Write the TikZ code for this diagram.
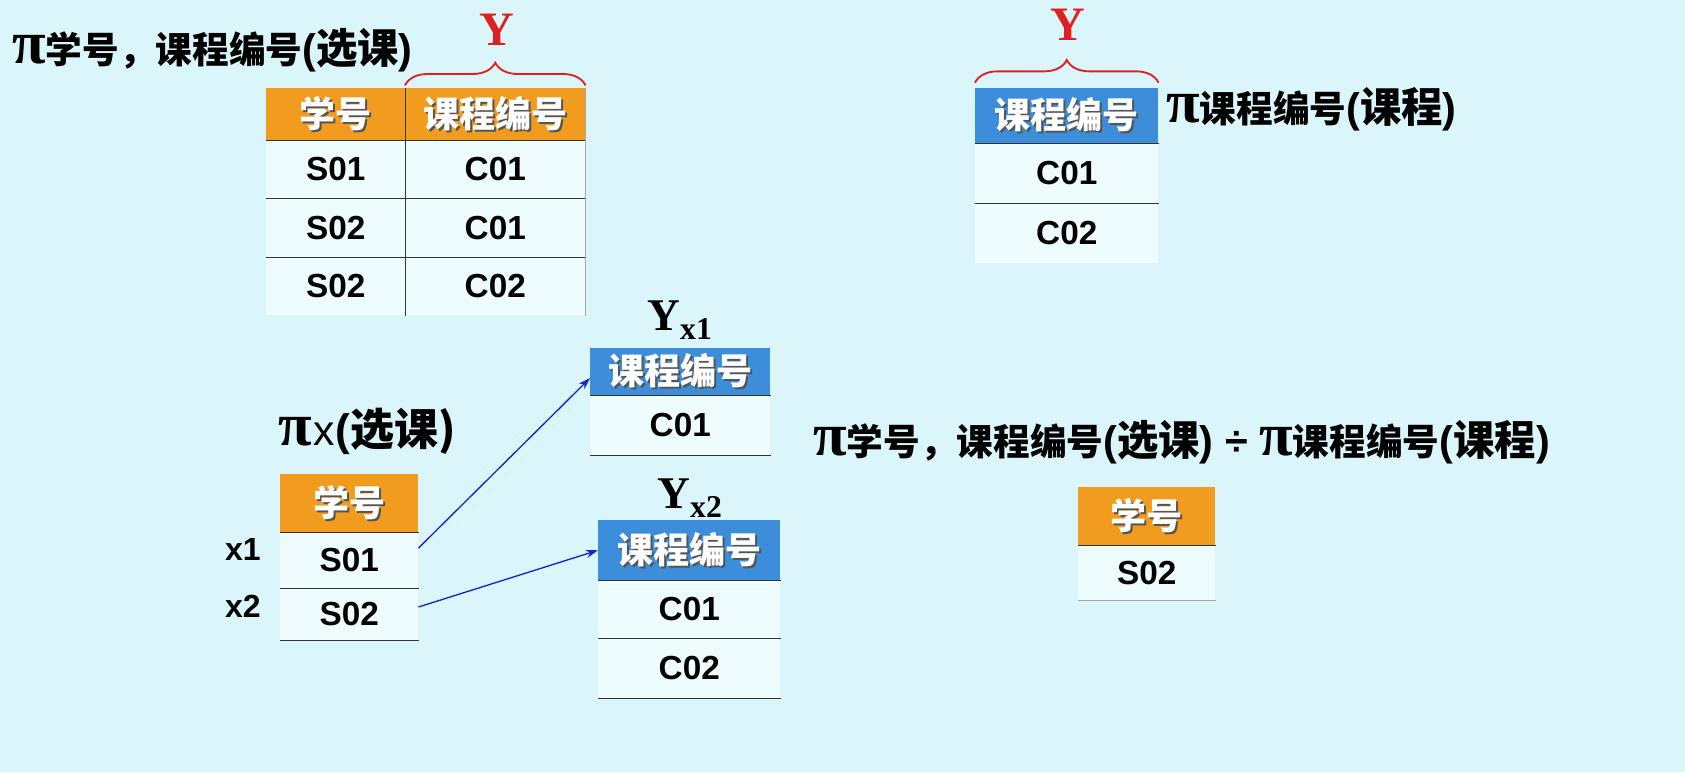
\documentclass[tikz,border=0pt]{standalone}
\usepackage{fontspec}
\setmainfont{Liberation Sans}
\newfontfamily\cjk{Noto Sans CJK SC}
\newfontfamily\ser{Liberation Serif}
\usetikzlibrary{decorations.pathreplacing,arrows.meta}
\definecolor{bgc}{HTML}{DBF6FB}
\definecolor{cellc}{HTML}{EEFCFD}
\definecolor{orangec}{HTML}{F29C1F}
\definecolor{bluec}{HTML}{3C8EDB}
\definecolor{rulec}{HTML}{333333}
\definecolor{redc}{HTML}{E02020}
\definecolor{arrc}{HTML}{1A22C8}
\definecolor{shadowc}{HTML}{555555}
\newcommand\shd[1]{\rlap{\kern1.6pt\raisebox{-1.6pt}{\textcolor{shadowc}{#1}}}\textcolor{white}{#1}}
\newcommand\bigpi{{\fontsize{46}{46}\selectfont\ser\bfseries π}}
\newcommand\subcj[1]{{\fontsize{27.5}{27.5}\selectfont\cjk\bfseries #1}}
\newcommand\bigcj[1]{{\fontsize{31}{31}\selectfont\cjk\bfseries #1}}
\newcommand\bigpar[1]{{\fontsize{31}{31}\selectfont\bfseries #1}}
\newcommand\cellnode[7]{\node[#2, anchor=north west, minimum width={(#5-#3)*0.75pt}, minimum height={(#6-#4)*0.75pt}] (#1) at (#3,#4) {#7};}
\tikzset{
  cell/.style={fill=cellc, inner sep=0pt, font=\fontsize{25}{25}\selectfont\bfseries},
  ohead/.style={cell, fill=orangec, font=\fontsize{27}{27}\selectfont\cjk\bfseries},
  bhead/.style={cell, fill=bluec, font=\fontsize{27}{27}\selectfont\cjk\bfseries},
  rule/.style={draw=rulec, line width=1.3pt},
  thin rule/.style={draw=black!35, line width=0.8pt},
  bracey/.style={draw=redc, line width=1.4pt, decorate, decoration={brace, amplitude=17pt}},
  ylab/.style={text=redc, font=\fontsize{36}{36}\selectfont\ser\bfseries, inner sep=0pt},
  ysub/.style={font=\fontsize{34}{34}\selectfont\ser\bfseries, inner sep=0pt},
  lab/.style={inner sep=0pt},
  xlab/.style={inner sep=0pt, font=\fontsize{24}{24}\selectfont\bfseries},
  arr/.style={draw=arrc, line width=1pt, -{Stealth[length=9pt,width=6pt]}}
}
\begin{document}
\begin{tikzpicture}[x=0.75pt,y=-0.75pt]
\fill[bgc] (0,0) rectangle (1685,772);
\useasboundingbox (0,0) rectangle (1685,772);
% ---- table 1
\cellnode{t1a}{ohead}{266}{88}{405}{140}{\shd{学号}}
\cellnode{t1b}{ohead}{405}{88}{585}{140}{\shd{课程编号}}
\cellnode{t1r1a}{cell}{266}{140}{405}{198}{S01}
\cellnode{t1r1b}{cell}{405}{140}{585}{198}{C01}
\cellnode{t1r2a}{cell}{266}{198}{405}{257}{S02}
\cellnode{t1r2b}{cell}{405}{198}{585}{257}{C01}
\cellnode{t1r3a}{cell}{266}{257}{405}{315}{S02}
\cellnode{t1r3b}{cell}{405}{257}{585}{315}{C02}
\draw[rule] (t1a.south west) -- (t1b.south east);
\draw[rule] (t1r1a.south west) -- (t1r1b.south east);
\draw[rule] (t1r2a.south west) -- (t1r2b.south east);
\draw[rule] (t1a.north east) -- (t1r3a.south east);
\draw[thin rule] (t1b.north east) -- (t1r3b.south east);
\coordinate (b1l) at (t1b.north west);
\coordinate (b1r) at (t1b.north east);
\draw[bracey] ([yshift=2pt]b1l) -- ([yshift=2pt]b1r);
\node[ylab, anchor=base] (y1) at (497,45) {Y};
\node[lab, anchor=base west] (title1) at (12,63) {\bigpi\subcj{学号，课程编号}\bigpar{(}\bigcj{选课}\bigpar{)}};
% ---- table 2
\cellnode{t2h}{bhead}{975}{88}{1158}{143}{\shd{课程编号}}
\cellnode{t2r1}{cell}{975}{143}{1158}{203}{C01}
\cellnode{t2r2}{cell}{975}{203}{1158}{263}{C02}
\draw[rule] (t2h.south west) -- (t2h.south east);
\draw[rule] (t2r1.south west) -- (t2r1.south east);
\draw[bracey] ([yshift=4pt]t2h.north west) -- ([yshift=4pt]t2h.north east);
\node[ylab, anchor=base] (y2) at (1068,40) {Y};
\node[lab, anchor=base west] (title2) at (1166,122) {\bigpi\subcj{课程编号}\bigpar{(}\bigcj{课程}\bigpar{)}};
% ---- table 3
\node[ysub, anchor=base] (yx1) at (680,330) {Y\textsubscript{x1}};
\cellnode{t3h}{bhead}{590}{348}{770}{395}{\shd{课程编号}}
\cellnode{t3r1}{cell}{590}{395}{770}{455}{C01}
\draw[rule] (t3h.south west) -- (t3h.south east);
\draw[rule] (t3r1.south west) -- (t3r1.south east);
% ---- table 4
\node[lab, anchor=base west] (title3) at (278,445) {\bigpi\kern1pt{\fontsize{32}{32}\selectfont x}\kern1pt{\fontsize{33}{33}\selectfont\bfseries(\cjk 选课)}};
\cellnode{t4h}{ohead}{280}{474}{418}{532}{\shd{学号}}
\cellnode{t4r1}{cell}{280}{532}{418}{588}{S01}
\cellnode{t4r2}{cell}{280}{588}{418}{640}{S02}
\draw[rule] (t4h.south west) -- (t4h.south east);
\draw[rule] (t4r1.south west) -- (t4r1.south east);
\draw[rule] (t4r2.south west) -- (t4r2.south east);
\node[xlab, anchor=base] (x1) at (243,560) {x1};
\node[xlab, anchor=base] (x2) at (243,617) {x2};
% ---- table 5
\node[ysub, anchor=base] (yx2) at (690,508) {Y\textsubscript{x2}};
\cellnode{t5h}{bhead}{598}{520}{780}{580}{\shd{课程编号}}
\cellnode{t5r1}{cell}{598}{580}{780}{638}{C01}
\cellnode{t5r2}{cell}{598}{638}{780}{698}{C02}
\draw[rule] (t5h.south west) -- (t5h.south east);
\draw[rule] (t5r1.south west) -- (t5r1.south east);
\draw[rule] (t5r2.south west) -- (t5r2.south east);
% ---- arrows
\draw[arr] (t4r1.10) -- (t3h.184);
\draw[arr] (t4r2.6) -- (t5h.west);
% ---- result
\node[lab, anchor=base west] (formula) at (813,455) {\bigpi\subcj{学号，课程编号}\bigpar{(}\bigcj{选课}\bigpar{)}\bigpar{\ ÷ }\bigpi\subcj{课程编号}\bigpar{(}\bigcj{课程}\bigpar{)}};
\cellnode{t6h}{ohead}{1078}{487}{1215}{545}{\shd{学号}}
\cellnode{t6r1}{cell}{1078}{545}{1215}{600}{S02}
\draw[rule] (t6h.south west) -- (t6h.south east);
\draw[thin rule] (t6r1.south west) -- (t6r1.south east);
\end{tikzpicture}
\end{document}
